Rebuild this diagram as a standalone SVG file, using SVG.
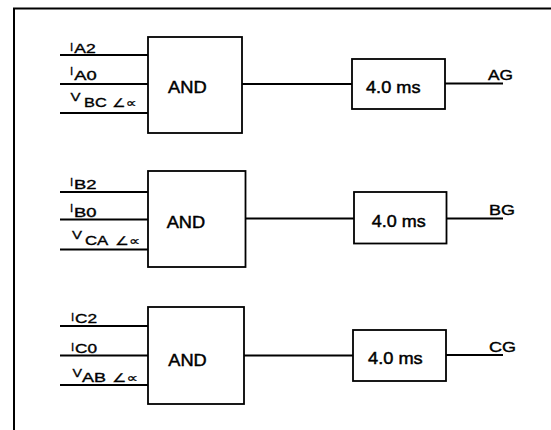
<svg xmlns="http://www.w3.org/2000/svg" width="551" height="430" viewBox="0 0 551 430">
<style>
.box{fill:#fff;stroke:#000;stroke-width:1.8}
.ln{stroke:#000;stroke-width:1.8;fill:none}
.frm{stroke:#000;stroke-width:2;fill:none}
text{font-family:"Liberation Sans",Arial,"DejaVu Sans",sans-serif;fill:#000}
.big{font-size:16.5px;stroke:#000;stroke-width:0.45}
.out{font-size:15.5px;stroke:#000;stroke-width:0.4}
.m{font-size:11.5px;stroke:#000;stroke-width:0.3}
.s{font-size:12.5px;stroke:#000;stroke-width:0.35}
.ang{font-size:12px;font-family:"DejaVu Sans",sans-serif;stroke:#000;stroke-width:0.25}
</style>
<rect width="551" height="430" fill="#fff"/>
<path class="frm" d="M14,430 L14,8.5 L551,8.5"/>

<g id="connectors">
  <line class="ln" x1="60" y1="55" x2="148" y2="55"/>
  <line class="ln" x1="60" y1="84" x2="148" y2="84"/>
  <line class="ln" x1="60" y1="113" x2="148" y2="113"/>
  <line class="ln" x1="242" y1="84" x2="352" y2="84"/>
  <line class="ln" x1="445" y1="83.5" x2="503" y2="83.5"/>

  <line class="ln" x1="60" y1="192" x2="148" y2="192"/>
  <line class="ln" x1="60" y1="219.5" x2="148" y2="219.5"/>
  <line class="ln" x1="60" y1="249.5" x2="148" y2="249.5"/>
  <line class="ln" x1="246" y1="218.5" x2="354" y2="218.5"/>
  <line class="ln" x1="446.5" y1="218.5" x2="503" y2="218.5"/>

  <line class="ln" x1="60" y1="326" x2="148" y2="326"/>
  <line class="ln" x1="60" y1="355.5" x2="148" y2="355.5"/>
  <line class="ln" x1="60" y1="385" x2="148" y2="385"/>
  <line class="ln" x1="244" y1="355.5" x2="353" y2="355.5"/>
  <line class="ln" x1="446" y1="355" x2="503" y2="355"/>
</g>

<g id="inputs-a">
  <text class="m" x="70" y="50.5">I</text><text class="s" x="74.3" y="52.7" textLength="21.4" lengthAdjust="spacingAndGlyphs">A2</text>
  <text class="m" x="70" y="75">I</text><text class="s" x="74.3" y="80" textLength="22.4" lengthAdjust="spacingAndGlyphs">A0</text>
  <text class="m" x="70.5" y="100.5" textLength="10" lengthAdjust="spacingAndGlyphs">V</text><text class="s" x="84" y="107.3" textLength="22.7" lengthAdjust="spacingAndGlyphs">BC</text><text class="ang" x="112" y="107" textLength="24.5" lengthAdjust="spacingAndGlyphs">∠∝</text>
</g>
<g id="and-a">
  <rect class="box" x="148" y="37" width="94" height="96"/>
  <text class="big" x="168" y="92.7" textLength="38.7" lengthAdjust="spacingAndGlyphs">AND</text>
</g>
<g id="delay-a">
  <rect class="box" x="352" y="59" width="93" height="50"/>
  <text class="big" x="366" y="93" textLength="54.5" lengthAdjust="spacingAndGlyphs">4.0 ms</text>
</g>
<g id="out-a"><text class="out" x="488" y="80" textLength="25" lengthAdjust="spacingAndGlyphs">AG</text></g>

<g id="inputs-b">
  <text class="m" x="70" y="186">I</text><text class="s" x="74" y="188.5" textLength="22.5" lengthAdjust="spacingAndGlyphs">B2</text>
  <text class="m" x="70" y="211.5">I</text><text class="s" x="74" y="216.7" textLength="22.5" lengthAdjust="spacingAndGlyphs">B0</text>
  <text class="m" x="72" y="238.5" textLength="10" lengthAdjust="spacingAndGlyphs">V</text><text class="s" x="85" y="245" textLength="23.3" lengthAdjust="spacingAndGlyphs">CA</text><text class="ang" x="115" y="245" textLength="25" lengthAdjust="spacingAndGlyphs">∠∝</text>
</g>
<g id="and-b">
  <rect class="box" x="148" y="171" width="97.5" height="96"/>
  <text class="big" x="166.7" y="228.3" textLength="38.5" lengthAdjust="spacingAndGlyphs">AND</text>
</g>
<g id="delay-b">
  <rect class="box" x="354" y="192" width="92.5" height="51.5"/>
  <text class="big" x="371.7" y="227.3" textLength="54" lengthAdjust="spacingAndGlyphs">4.0 ms</text>
</g>
<g id="out-b"><text class="out" x="489" y="215" textLength="26" lengthAdjust="spacingAndGlyphs">BG</text></g>

<g id="inputs-c">
  <text class="m" x="71" y="321">I</text><text class="s" x="75" y="323.3" textLength="22" lengthAdjust="spacingAndGlyphs">C2</text>
  <text class="m" x="71" y="350.5">I</text><text class="s" x="75" y="353.3" textLength="22" lengthAdjust="spacingAndGlyphs">C0</text>
  <text class="m" x="72.5" y="377" textLength="9.5" lengthAdjust="spacingAndGlyphs">V</text><text class="s" x="82" y="381.7" textLength="24" lengthAdjust="spacingAndGlyphs">AB</text><text class="ang" x="112" y="381.5" textLength="26" lengthAdjust="spacingAndGlyphs">∠∝</text>
</g>
<g id="and-c">
  <rect class="box" x="148" y="307" width="96" height="97"/>
  <text class="big" x="168.3" y="366" textLength="38.4" lengthAdjust="spacingAndGlyphs">AND</text>
</g>
<g id="delay-c">
  <rect class="box" x="353" y="330" width="93" height="51"/>
  <text class="big" x="368" y="364" textLength="54.7" lengthAdjust="spacingAndGlyphs">4.0 ms</text>
</g>
<g id="out-c"><text class="out" x="489" y="352" textLength="27" lengthAdjust="spacingAndGlyphs">CG</text></g>
</svg>
